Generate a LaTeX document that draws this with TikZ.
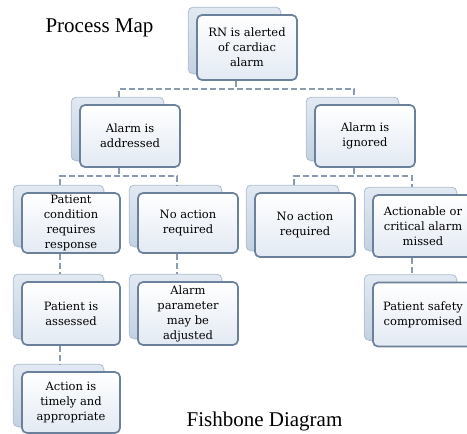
\documentclass[tikz,border=0pt]{standalone}
\usepackage{fontspec}
\setmainfont{Liberation Serif}
\newfontfamily\boxfont{DejaVu Serif}
\usetikzlibrary{backgrounds}
\definecolor{boxline}{HTML}{6A809B}
\definecolor{boxbottom}{HTML}{E3EAF3}
\definecolor{shadetop}{HTML}{E2E9F2}
\definecolor{shadebottom}{HTML}{C3D1E1}
\definecolor{shadeline}{HTML}{AEBED0}
\definecolor{linkgray}{HTML}{8A9CB1}

\begin{document}
\begin{tikzpicture}[x=1pt,y=-1pt,
    card/.style={draw=boxline,line width=1.7pt,rounded corners=5pt,top color=white,bottom color=boxbottom,
        align=center,inner sep=0pt,minimum width=100pt,font=\boxfont\fontsize{11.5}{15}\selectfont},
    back/.style={draw=shadeline,line width=0.8pt,rounded corners=5pt,top color=shadetop,bottom color=shadebottom},
    link/.style={draw=linkgray,line width=2.3pt,dash pattern=on 6pt off 3pt},
    title/.style={font=\fontsize{21}{25}\selectfont}]
                \useasboundingbox (0,0) rectangle (467,434);
                \clip (0,0) rectangle (467,434);
                % titles
                \node[title] (pm) at (99.5,28) {Process Map};
                \node[title] (fd) at (264.5,421) {Fishbone Diagram};
                % boxes
                \node[card,minimum height=65pt] (rn) at (247,47.5) {RN is alerted\\of cardiac\\alarm};
                \node[card,minimum height=62pt] (addr) at (130,136) {Alarm is\\addressed};
                \node[card,minimum height=62pt] (ign) at (365,136) {Alarm is\\ignored};
                \node[card,minimum height=60pt,minimum width=98pt] (cond) at (71,223) {Patient\\condition\\requires\\response};
                \node[card,minimum height=60pt] (noact) at (188,223) {No action\\required};
                \node[card,minimum height=64pt] (none) at (305,225) {No action\\required};
                \node[card,minimum height=62pt] (miss) at (423,226) {Actionable or\\critical alarm\\missed};
                \node[card,minimum height=63pt,minimum width=98pt] (assess) at (71,313.5) {Patient is\\assessed};
                \node[card,minimum height=63pt] (param) at (188,313.5) {Alarm\\parameter\\may be\\adjusted};
                \node[card,minimum height=64pt] (safety) at (423,314.5) {Patient safety\\compromised};
                \node[card,minimum height=61pt,minimum width=98pt] (act) at (71,402.5) {Action is\\timely and\\appropriate};
                % shadow boxes
                \begin{scope}[on background layer]
                    \foreach \n in {rn,addr,ign,cond,noact,none,miss,assess,param,safety,act}
                        \path[back] ([shift={(-8,-7)}]\n.north west) rectangle ([shift={(-17,-7)}]\n.south east);
                \end{scope}
                % connectors
                \draw[link] ([xshift=-11pt]rn.south) -- ++(0,8) coordinate (b1);
                \draw[link] ([shift={(-11,-7)}]addr.north) |- (b1) -| ([shift={(-11,-7)}]ign.north);
                \draw[link] ([xshift=-11pt]addr.south) -- ++(0,8) coordinate (b2);
                \draw[link] ([shift={(-11,-7)}]cond.north) |- (b2) -| ([shift={(-11,-7)}]noact.north);
                \draw[link] ([xshift=-11pt]ign.south) -- ++(0,8) coordinate (b3);
                \draw[link] ([shift={(-11,-7)}]none.north) |- (b3) -| ([shift={(-11,-7)}]miss.north);
                \draw[link] ([xshift=-11pt]cond.south) -- ([shift={(-11,-7)}]assess.north);
                \draw[link] ([xshift=-11pt]noact.south) -- ([shift={(-11,-7)}]param.north);
                \draw[link] ([xshift=-11pt]miss.south) -- ([shift={(-11,-7)}]safety.north);
                \draw[link] ([xshift=-11pt]assess.south) -- ([shift={(-11,-7)}]act.north);
            \end{tikzpicture}
\end{document}
